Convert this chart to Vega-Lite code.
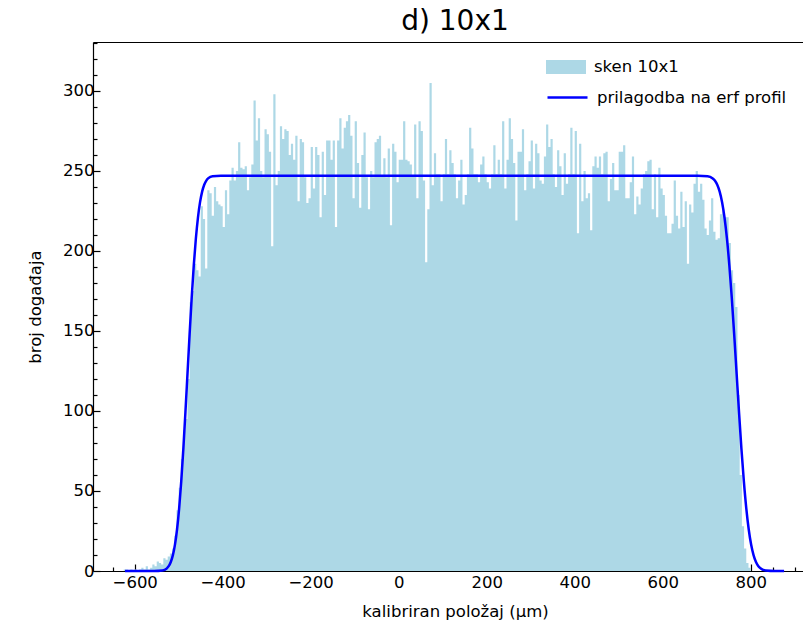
{
  "$schema": "https://vega.github.io/schema/vega-lite/v6.json",
  "width": 710,
  "height": 529,
  "autosize": {"type": "none"},
  "padding": {"left": 93, "top": 42, "right": 0, "bottom": 53},
  "background": "white",
  "config": {
    "font": "DejaVu Sans",
    "view": {"stroke": null},
    "axis": {"grid": false, "domainColor": "#000", "tickColor": "#000", "labelColor": "#000", "titleColor": "#000", "labelFontSize": 16.5, "titleFontSize": 16.5, "titleFontWeight": "normal", "domainWidth": 1.2, "tickWidth": 1.2, "zindex": 1},
    "legend": {"labelFontSize": 16.5, "labelColor": "#000", "labelOffset": 8, "labelLimit": 400, "symbolSize": 1600, "title": null}
  },
  "title": {"text": "d) 10x1", "fontSize": 28, "fontWeight": "normal", "color": "#000", "dx": 7, "offset": 6},
  "datasets": {
    "hist": [
      {"a":-625,"n":1},{"a":-620,"n":1},{"a":-615,"n":0},{"a":-610,"n":1},{"a":-605,"n":0},
      {"a":-600,"n":1},{"a":-595,"n":0},{"a":-590,"n":1},{"a":-585,"n":2},{"a":-580,"n":1},
      {"a":-575,"n":3},{"a":-570,"n":1},{"a":-565,"n":2},{"a":-560,"n":4},{"a":-555,"n":3},
      {"a":-550,"n":6},{"a":-545,"n":5},{"a":-540,"n":4},{"a":-535,"n":8},{"a":-530,"n":7},
      {"a":-525,"n":9},{"a":-520,"n":11},{"a":-515,"n":14},{"a":-510,"n":22},{"a":-505,"n":38},
      {"a":-500,"n":52},{"a":-495,"n":70},{"a":-490,"n":88},{"a":-485,"n":95},{"a":-480,"n":120},
      {"a":-475,"n":168},{"a":-470,"n":175},{"a":-465,"n":192},{"a":-460,"n":188},{"a":-455,"n":184},
      {"a":-450,"n":228},{"a":-445,"n":220},{"a":-440,"n":189},{"a":-435,"n":238},{"a":-430,"n":236},
      {"a":-425,"n":222},{"a":-420,"n":240},{"a":-415,"n":231},{"a":-410,"n":229},{"a":-405,"n":228},
      {"a":-400,"n":215},{"a":-395,"n":238},{"a":-390,"n":223},{"a":-385,"n":244},{"a":-380,"n":252},
      {"a":-375,"n":244},{"a":-370,"n":250},{"a":-365,"n":268},{"a":-360,"n":252},{"a":-355,"n":251},
      {"a":-350,"n":253},{"a":-345,"n":238},{"a":-340,"n":246},{"a":-335,"n":254},{"a":-330,"n":294},
      {"a":-325,"n":269},{"a":-320,"n":283},{"a":-315,"n":250},{"a":-310,"n":246},{"a":-305,"n":276},
      {"a":-300,"n":273},{"a":-295,"n":262},{"a":-290,"n":203},{"a":-285,"n":298},{"a":-280,"n":241},
      {"a":-275,"n":250},{"a":-270,"n":278},{"a":-265,"n":270},{"a":-260,"n":276},{"a":-255,"n":275},
      {"a":-250,"n":260},{"a":-245,"n":267},{"a":-240,"n":257},{"a":-235,"n":272},{"a":-230,"n":231},
      {"a":-225,"n":270},{"a":-220,"n":268},{"a":-215,"n":246},{"a":-210,"n":230},{"a":-205,"n":233},
      {"a":-200,"n":265},{"a":-195,"n":239},{"a":-190,"n":265},{"a":-185,"n":260},{"a":-180,"n":221},
      {"a":-175,"n":262},{"a":-170,"n":235},{"a":-165,"n":269},{"a":-160,"n":269},{"a":-155,"n":257},
      {"a":-150,"n":269},{"a":-145,"n":215},{"a":-140,"n":269},{"a":-135,"n":283},{"a":-130,"n":264},
      {"a":-125,"n":277},{"a":-120,"n":281},{"a":-115,"n":285},{"a":-110,"n":272},{"a":-105,"n":233},
      {"a":-100,"n":281},{"a":-95,"n":255},{"a":-90,"n":227},{"a":-85,"n":260},{"a":-80,"n":274},
      {"a":-75,"n":246},{"a":-70,"n":226},{"a":-65,"n":250},{"a":-60,"n":246},{"a":-55,"n":268},
      {"a":-50,"n":270},{"a":-45,"n":272},{"a":-40,"n":247},{"a":-35,"n":258},{"a":-30,"n":246},
      {"a":-25,"n":264},{"a":-20,"n":216},{"a":-15,"n":267},{"a":-10,"n":262},{"a":-5,"n":243},
      {"a":0,"n":257},{"a":5,"n":257},{"a":10,"n":281},{"a":15,"n":257},{"a":20,"n":256},
      {"a":25,"n":254},{"a":30,"n":247},{"a":35,"n":279},{"a":40,"n":233},{"a":45,"n":281},
      {"a":50,"n":275},{"a":55,"n":244},{"a":60,"n":193},{"a":65,"n":226},{"a":70,"n":305},
      {"a":75,"n":241},{"a":80,"n":261},{"a":85,"n":248},{"a":90,"n":248},{"a":95,"n":231},
      {"a":100,"n":248},{"a":105,"n":270},{"a":110,"n":248},{"a":115,"n":263},{"a":120,"n":255},
      {"a":125,"n":248},{"a":130,"n":233},{"a":135,"n":244},{"a":140,"n":257},{"a":145,"n":229},
      {"a":150,"n":235},{"a":155,"n":248},{"a":160,"n":277},{"a":165,"n":264},{"a":170,"n":248},
      {"a":175,"n":248},{"a":180,"n":243},{"a":185,"n":254},{"a":190,"n":259},{"a":195,"n":248},
      {"a":200,"n":243},{"a":205,"n":239},{"a":210,"n":248},{"a":215,"n":266},{"a":220,"n":248},
      {"a":225,"n":257},{"a":230,"n":248},{"a":235,"n":281},{"a":240,"n":239},{"a":245,"n":257},
      {"a":250,"n":283},{"a":255,"n":270},{"a":260,"n":255},{"a":265,"n":219},{"a":270,"n":262},
      {"a":275,"n":262},{"a":280,"n":276},{"a":285,"n":238},{"a":290,"n":248},{"a":295,"n":256},
      {"a":300,"n":269},{"a":305,"n":239},{"a":310,"n":267},{"a":315,"n":261},{"a":320,"n":244},
      {"a":325,"n":242},{"a":330,"n":259},{"a":335,"n":279},{"a":340,"n":265},{"a":345,"n":270},
      {"a":350,"n":248},{"a":355,"n":240},{"a":360,"n":263},{"a":365,"n":253},{"a":370,"n":235},
      {"a":375,"n":261},{"a":380,"n":242},{"a":385,"n":248},{"a":390,"n":277},{"a":395,"n":248},
      {"a":400,"n":275},{"a":405,"n":211},{"a":410,"n":267},{"a":415,"n":231},{"a":420,"n":250},
      {"a":425,"n":233},{"a":430,"n":236},{"a":435,"n":213},{"a":440,"n":253},{"a":445,"n":259},
      {"a":450,"n":252},{"a":455,"n":259},{"a":460,"n":248},{"a":465,"n":261},{"a":470,"n":262},
      {"a":475,"n":231},{"a":480,"n":245},{"a":485,"n":255},{"a":490,"n":238},{"a":495,"n":238},
      {"a":500,"n":262},{"a":505,"n":262},{"a":510,"n":266},{"a":515,"n":233},{"a":520,"n":233},
      {"a":525,"n":243},{"a":530,"n":259},{"a":535,"n":223},{"a":540,"n":234},{"a":545,"n":229},
      {"a":550,"n":239},{"a":555,"n":248},{"a":560,"n":250},{"a":565,"n":256},{"a":570,"n":257},
      {"a":575,"n":226},{"a":580,"n":248},{"a":585,"n":221},{"a":590,"n":252},{"a":595,"n":239},
      {"a":600,"n":235},{"a":605,"n":222},{"a":610,"n":211},{"a":615,"n":211},{"a":620,"n":217},
      {"a":625,"n":244},{"a":630,"n":222},{"a":635,"n":214},{"a":640,"n":237},{"a":645,"n":215},
      {"a":650,"n":231},{"a":655,"n":192},{"a":660,"n":229},{"a":665,"n":224},{"a":670,"n":242},
      {"a":675,"n":250},{"a":680,"n":237},{"a":685,"n":242},{"a":690,"n":232},{"a":695,"n":214},
      {"a":700,"n":210},{"a":705,"n":219},{"a":710,"n":233},{"a":715,"n":212},{"a":720,"n":207},
      {"a":725,"n":208},{"a":730,"n":223},{"a":735,"n":226},{"a":740,"n":221},{"a":745,"n":221},
      {"a":750,"n":205},{"a":755,"n":188},{"a":760,"n":180},{"a":765,"n":165},{"a":770,"n":110},
      {"a":775,"n":60},{"a":780,"n":28},{"a":785,"n":14},{"a":790,"n":5},{"a":795,"n":2},
      {"a":800,"n":0}
    ],
    "fit": [
      {"x":-622,"y":0},{"x":-556,"y":0.01},{"x":-537,"y":0.33},{"x":-527.5,"y":1.5},{"x":-522.75,"y":3.0},{"x":-518,"y":5.6},
      {"x":-513.25,"y":9.9},{"x":-508.5,"y":16.5},{"x":-503.75,"y":26.1},{"x":-499,"y":39.2},{"x":-494.25,"y":56.0},{"x":-489.5,"y":76.2},
      {"x":-484.75,"y":99.1},{"x":-480,"y":123.5},{"x":-475.25,"y":147.9},{"x":-470.5,"y":170.8},{"x":-465.75,"y":191.0},{"x":-461,"y":207.8},
      {"x":-456.25,"y":220.9},{"x":-451.5,"y":230.5},{"x":-446.75,"y":237.1},{"x":-442,"y":241.4},{"x":-437.25,"y":244.0},{"x":-432.5,"y":245.5},
      {"x":-423,"y":246.7},{"x":-404,"y":247},{"x":680,"y":247},{"x":702,"y":246.7},{"x":713,"y":245.5},{"x":718.5,"y":244.0},
      {"x":724,"y":241.4},{"x":729.5,"y":237.1},{"x":735,"y":230.5},{"x":740.5,"y":220.9},{"x":746,"y":207.8},{"x":751.5,"y":191.0},
      {"x":757,"y":170.8},{"x":762.5,"y":147.9},{"x":768,"y":123.5},{"x":773.5,"y":99.1},{"x":779,"y":76.2},{"x":784.5,"y":56.0},
      {"x":790,"y":39.2},{"x":795.5,"y":26.1},{"x":801,"y":16.5},{"x":806.5,"y":9.9},{"x":812,"y":5.6},{"x":817.5,"y":3.0},
      {"x":823,"y":1.5},{"x":834,"y":0.33},{"x":856,"y":0.01},{"x":876,"y":0}
    ]
  },
  "resolve": {"axis": {"x": "independent", "y": "independent"}},
  "layer": [
    {
      "data": {"name": "hist"},
      "mark": {"type": "area", "interpolate": "step-after", "fillOpacity": 1, "opacity": 1},
      "encoding": {
        "x": {"field": "a", "type": "quantitative", "scale": {"domain": [-694.8, 918.9], "nice": false, "zero": false},
          "axis": {"orient": "bottom", "values": [-600, -400, -200, 0, 200, 400, 600, 800], "format": "d", "tickSize": -7, "labelPadding": 10, "title": "kalibriran položaj (μm)", "titleX": 362, "titlePadding": 13}},
        "y": {"field": "n", "type": "quantitative", "scale": {"domain": [0, 330.6], "nice": false},
          "axis": {"orient": "left", "values": [0, 50, 100, 150, 200, 250, 300], "tickSize": -7, "labelPadding": 6, "title": "broj događaja", "titlePadding": 19}},
        "fill": {"datum": "sken 10x1", "type": "nominal",
          "scale": {"domain": ["sken 10x1"], "range": ["#add8e6"]},
          "legend": {"orient": "none", "legendX": 453, "legendY": 5, "symbolType": "M-1,-0.35L1,-0.35L1,0.35L-1,0.35Z", "symbolStrokeWidth": 0, "symbolOpacity": 1}}
      }
    },
    {
      "data": {"name": "fit"},
      "mark": {"type": "line", "strokeWidth": 2.5, "interpolate": "monotone"},
      "encoding": {
        "x": {"field": "x", "type": "quantitative", "scale": {"domain": [-694.8, 918.9], "nice": false, "zero": false},
          "axis": {"orient": "bottom", "values": [-650, -550, -500, -450, -350, -300, -250, -150, -100, -50, 50, 100, 150, 250, 300, 350, 450, 500, 550, 650, 700, 750, 850, 900], "tickSize": -4, "labels": false, "domain": false, "title": null}},
        "y": {"field": "y", "type": "quantitative", "scale": {"domain": [0, 330.6], "nice": false},
          "axis": {"orient": "left", "values": [10, 20, 30, 40, 60, 70, 80, 90, 110, 120, 130, 140, 160, 170, 180, 190, 210, 220, 230, 240, 260, 270, 280, 290, 310, 320, 330], "tickSize": -4, "labels": false, "domain": false, "title": null}},
        "stroke": {"datum": "prilagodba na erf profil", "type": "nominal",
          "scale": {"domain": ["prilagodba na erf profil"], "range": ["#0000ff"]},
          "legend": {"orient": "none", "legendX": 453, "legendY": 34, "symbolType": "stroke", "symbolStrokeWidth": 2.5, "symbolOpacity": 1}}
      }
    },
    {
      "data": {"name": "fit"},
      "mark": {"type": "line", "opacity": 0},
      "encoding": {
        "x": {"field": "x", "type": "quantitative", "scale": {"domain": [-694.8, 918.9], "nice": false, "zero": false},
          "axis": {"orient": "top", "ticks": false, "labels": false, "domain": true, "title": null}},
        "y": {"field": "y", "type": "quantitative", "scale": {"domain": [0, 330.6], "nice": false}, "axis": null}
      }
    }
  ]
}
